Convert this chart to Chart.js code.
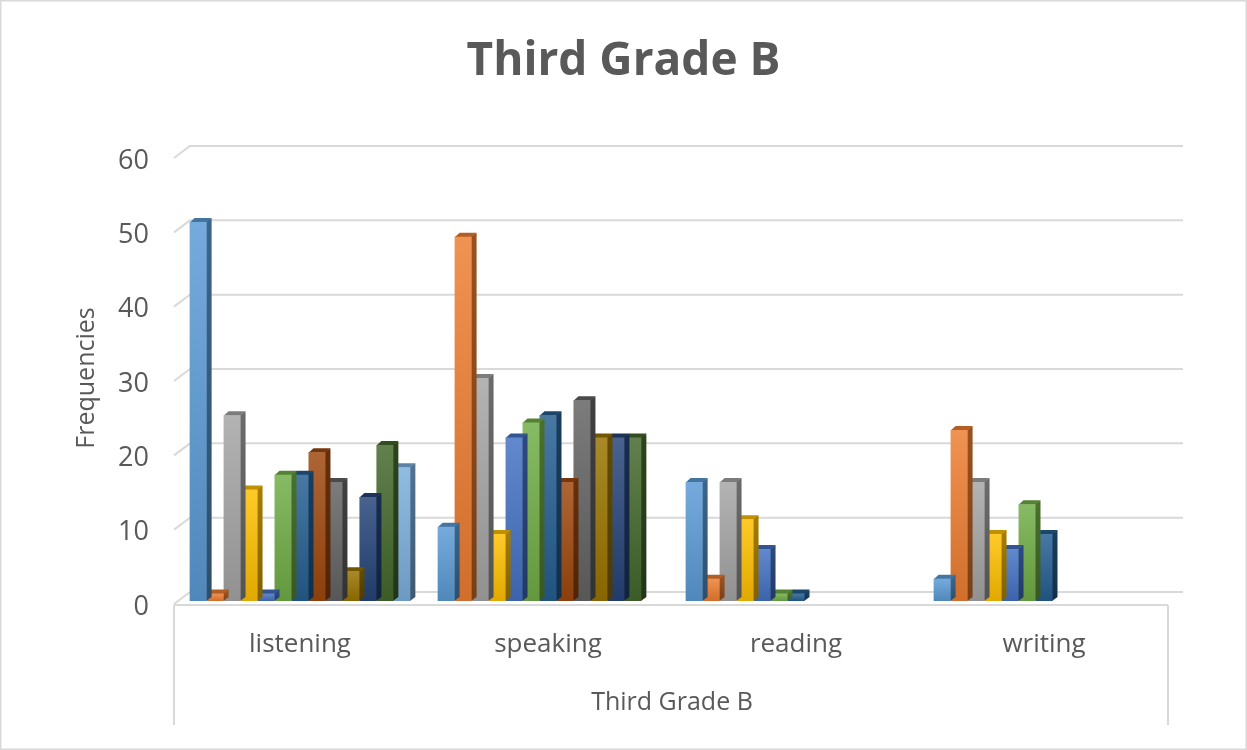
<!DOCTYPE html>
<html>
<head>
<meta charset="utf-8">
<script src="https://cdn.jsdelivr.net/npm/chart.js@4"></script>
<style>
  html, body { margin: 0; padding: 0; background: #ffffff; }
  #wrap { width: 1247px; height: 750px; position: relative; }
</style>
</head>
<body>
<div id="wrap"><canvas id="c" width="1247" height="750"></canvas></div>
<script>
// Categories (skills) and the grouped-series values for each category
const categories = ['listening', 'speaking', 'reading', 'writing'];
const groupTitle = 'Third Grade B';

const series1  = [51, 10, 16, 3];
const series2  = [1, 49, 3, 23];
const series3  = [25, 30, 16, 16];
const series4  = [15, 9, 11, 9];
const series5  = [1, 22, 7, 7];
const series6  = [17, 24, 1, 13];
const series7  = [17, 25, 1, 9];
const series8  = [20, 16, 0, 0];
const series9  = [16, 27, 0, 0];
const series10 = [4, 22, 0, 0];
const series11 = [14, 22, 0, 0];
const series12 = [21, 22, 0, 0];
const series13 = [18, 0, 0, 0];

const yTicks = [0, 10, 20, 30, 40, 50, 60];

const seriesValues = [series1, series2, series3, series4, series5, series6, series7,
                      series8, series9, series10, series11, series12, series13];
const seriesColors = ['#5B9BD5', '#ED7D31', '#A5A5A5', '#FFC000', '#4472C4', '#70AD47',
                      '#255E91', '#9E480E', '#636363', '#997300', '#264478', '#43682B', '#7CAFDD'];

const TEXT = '#595959';
const LINE = '#d9d9d9';

function shade(hex, f) {
  const n = parseInt(hex.slice(1), 16);
  let r = (n >> 16) & 255, g = (n >> 8) & 255, b = n & 255;
  if (f >= 0) { r += (255 - r) * f; g += (255 - g) * f; b += (255 - b) * f; }
  else { r *= 1 + f; g *= 1 + f; b *= 1 + f; }
  return 'rgb(' + Math.round(r) + ',' + Math.round(g) + ',' + Math.round(b) + ')';
}

// Front face: vertical gradient along each bar
function frontFill(ctx) {
  const chart = ctx.chart;
  const base = seriesColors[ctx.datasetIndex];
  if (!chart.chartArea || ctx.type !== 'data') return base;
  const y = chart.scales.y;
  const top = y.getPixelForValue(ctx.parsed ? ctx.parsed.y : ctx.raw);
  const bottom = y.getPixelForValue(0);
  if (!isFinite(top) || bottom - top < 1) return base;
  const g = chart.ctx.createLinearGradient(0, top, 0, bottom);
  g.addColorStop(0, shade(base, 0.16));
  g.addColorStop(1, shade(base, -0.12));
  return g;
}

const DEPTH_X = 5, DEPTH_Y = 4;

// Side and top faces give each column its 3-D look
const columnDepth = {
  id: 'columnDepth',
  beforeDatasetDraw(chart, args) {
    const ctx = chart.ctx;
    const meta = args.meta;
    const base = seriesColors[args.index];
    meta.data.forEach((bar, i) => {
      const v = chart.data.datasets[args.index].data[i];
      if (!v) return;
      const p = bar.getProps(['x', 'y', 'base', 'width'], true);
      const l = p.x - p.width / 2, r = p.x + p.width / 2;
      ctx.save();
      // right side
      const sg = ctx.createLinearGradient(0, p.y, 0, p.base);
      sg.addColorStop(0, shade(base, -0.35));
      sg.addColorStop(1, shade(base, -0.5));
      ctx.fillStyle = sg;
      ctx.beginPath();
      ctx.moveTo(r - 0.5, p.y);
      ctx.lineTo(r + DEPTH_X, p.y - DEPTH_Y);
      ctx.lineTo(r + DEPTH_X, p.base - DEPTH_Y);
      ctx.lineTo(r - 0.5, p.base);
      ctx.closePath();
      ctx.fill();
      // top
      ctx.fillStyle = shade(base, -0.25);
      ctx.beginPath();
      ctx.moveTo(l, p.y + 0.5);
      ctx.lineTo(l + DEPTH_X, p.y - DEPTH_Y);
      ctx.lineTo(r + DEPTH_X, p.y - DEPTH_Y);
      ctx.lineTo(r, p.y + 0.5);
      ctx.closePath();
      ctx.fill();
      ctx.restore();
    });
  }
};

// Back-wall gridlines, the floor box under the categories and the outer frame
const wallAndFrame = {
  id: 'wallAndFrame',
  beforeDatasetsDraw(chart) {
    const ctx = chart.ctx;
    const y = chart.scales.y, x = chart.scales.x;
    ctx.save();
    ctx.strokeStyle = LINE;
    ctx.lineWidth = 2;
    yTicks.forEach(v => {
      const py = y.getPixelForValue(v);
      ctx.beginPath();
      ctx.moveTo(x.left - 2, py + 3);
      ctx.lineTo(x.left + 14, py - 9);
      ctx.lineTo(x.right + 15, py - 9);
      ctx.stroke();
    });
    const y0 = y.getPixelForValue(0) + 4;
    ctx.beginPath();
    ctx.moveTo(x.left - 2, y0);
    ctx.lineTo(x.right, y0);
    ctx.moveTo(x.left - 2, y0);
    ctx.lineTo(x.left - 2, 725);
    ctx.moveTo(x.right, y0);
    ctx.lineTo(x.right, 725);
    ctx.stroke();
    ctx.restore();
  },
  afterDraw(chart) {
    const ctx = chart.ctx;
    ctx.save();
    ctx.strokeStyle = LINE;
    ctx.lineWidth = 1.5;
    ctx.strokeRect(0.75, 0.75, chart.width - 1.5, chart.height - 1.5);
    ctx.restore();
  }
};

const datasets = seriesValues.map((vals, i) => ({
  label: 'Series ' + (i + 1),
  data: vals,
  backgroundColor: frontFill,
  borderWidth: 0,
  barPercentage: 1.0,
  categoryPercentage: 0.89
}));

new Chart(document.getElementById('c'), {
  type: 'bar',
  data: { labels: categories, datasets },
  plugins: [wallAndFrame, columnDepth],
  options: {
    responsive: false,
    animation: false,
    events: [],
    layout: { padding: { left: 79, right: 79, top: 0, bottom: 0 } },
    plugins: {
      legend: { display: false },
      tooltip: { enabled: false },
      title: {
        display: true,
        text: 'Third Grade B',
        color: TEXT,
        font: { family: 'Open Sans', size: 46, weight: 'bold', lineHeight: 1.2 },
        padding: { top: 34.4, bottom: 65.4 }
      }
    },
    scales: {
      x: {
        grid: { display: false, drawTicks: false },
        border: { display: false },
        ticks: { color: TEXT, font: { family: 'Open Sans', size: 26 }, padding: 28 },
        title: {
          display: true,
          text: groupTitle,
          color: TEXT,
          font: { family: 'Open Sans', size: 25, lineHeight: 1.2 },
          padding: { top: 0, bottom: 32 }
        },
        afterFit(scale) { scale.height = 149; }
      },
      y: {
        min: 0,
        max: 60,
        grid: { display: false, drawTicks: false },
        border: { display: false },
        ticks: {
          stepSize: 10,
          color: TEXT,
          font: { family: 'Open Sans', size: 27 },
          padding: 27,
          labelOffset: 6
        },
        title: {
          display: true,
          text: 'Frequencies',
          color: TEXT,
          font: { family: 'Open Sans', size: 25, lineHeight: 0.6 },
          padding: { top: 0, bottom: 0 }
        },
        afterFit(scale) { scale.width = 97; }
      }
    }
  }
});
</script>
</body>
</html>
